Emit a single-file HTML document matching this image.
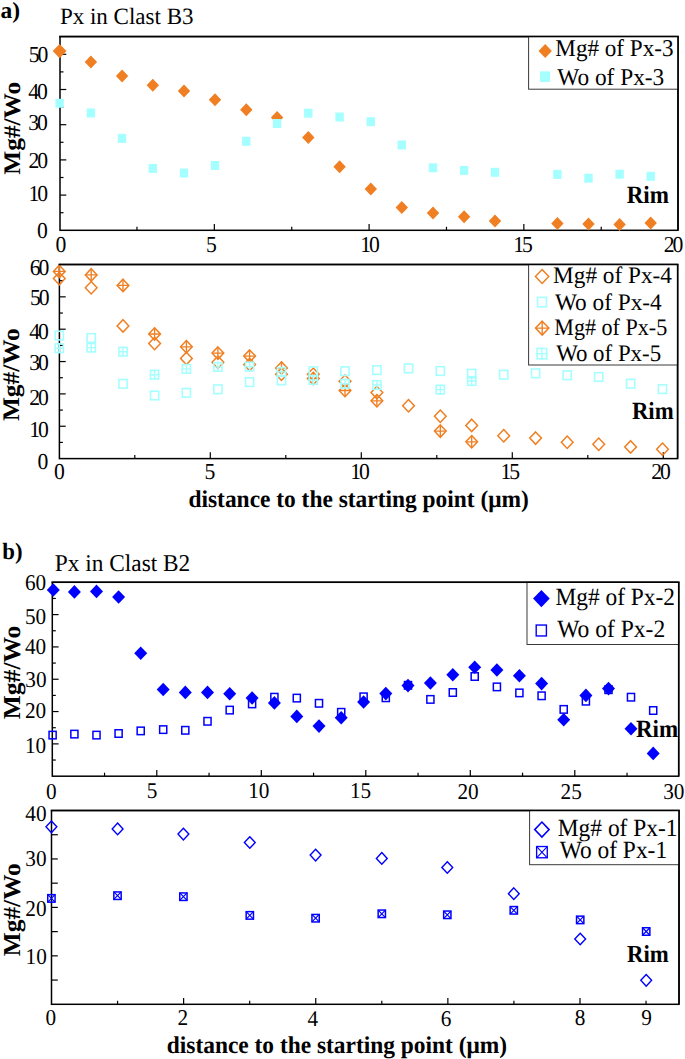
<!DOCTYPE html>
<html><head><meta charset="utf-8"><title>Px profiles</title>
<style>
html,body{margin:0;padding:0;background:#fff;}
body{width:685px;height:1059px;overflow:hidden;}
svg{display:block;font-family:"Liberation Serif", serif;text-rendering:geometricPrecision;}
</style></head>
<body>
<svg width="685" height="1059" viewBox="0 0 685 1059">
<rect width="685" height="1059" fill="#fff"/>
<line x1="60.00" y1="212.70" x2="63.50" y2="212.70" stroke="#000" stroke-width="1.2"/>
<line x1="60.00" y1="195.10" x2="66.30" y2="195.10" stroke="#000" stroke-width="1.2"/>
<line x1="60.00" y1="177.50" x2="63.50" y2="177.50" stroke="#000" stroke-width="1.2"/>
<line x1="60.00" y1="159.90" x2="66.30" y2="159.90" stroke="#000" stroke-width="1.2"/>
<line x1="60.00" y1="142.30" x2="63.50" y2="142.30" stroke="#000" stroke-width="1.2"/>
<line x1="60.00" y1="124.70" x2="66.30" y2="124.70" stroke="#000" stroke-width="1.2"/>
<line x1="60.00" y1="107.10" x2="63.50" y2="107.10" stroke="#000" stroke-width="1.2"/>
<line x1="60.00" y1="89.50" x2="66.30" y2="89.50" stroke="#000" stroke-width="1.2"/>
<line x1="60.00" y1="71.90" x2="63.50" y2="71.90" stroke="#000" stroke-width="1.2"/>
<line x1="60.00" y1="54.30" x2="66.30" y2="54.30" stroke="#000" stroke-width="1.2"/>
<line x1="136.97" y1="230.30" x2="136.97" y2="226.80" stroke="#000" stroke-width="1.2"/>
<line x1="214.35" y1="230.30" x2="214.35" y2="224.00" stroke="#000" stroke-width="1.2"/>
<line x1="291.73" y1="230.30" x2="291.73" y2="226.80" stroke="#000" stroke-width="1.2"/>
<line x1="369.10" y1="230.30" x2="369.10" y2="224.00" stroke="#000" stroke-width="1.2"/>
<line x1="446.48" y1="230.30" x2="446.48" y2="226.80" stroke="#000" stroke-width="1.2"/>
<line x1="523.85" y1="230.30" x2="523.85" y2="224.00" stroke="#000" stroke-width="1.2"/>
<line x1="601.23" y1="230.30" x2="601.23" y2="226.80" stroke="#000" stroke-width="1.2"/>
<rect x="60.00" y="36.60" width="618.00" height="193.70" stroke="#000" stroke-width="1.5" fill="none"/>
<path d="M59.60,43.90 L66.50,51.10 L59.60,58.30 L52.70,51.10 Z" fill="#EF7F22"/>
<path d="M90.90,55.40 L97.10,61.90 L90.90,68.40 L84.70,61.90 Z" fill="#EF7F22"/>
<path d="M122.10,69.40 L128.30,75.90 L122.10,82.40 L115.90,75.90 Z" fill="#EF7F22"/>
<path d="M152.80,78.70 L159.00,85.20 L152.80,91.70 L146.60,85.20 Z" fill="#EF7F22"/>
<path d="M184.00,84.60 L190.20,91.10 L184.00,97.60 L177.80,91.10 Z" fill="#EF7F22"/>
<path d="M215.00,93.30 L221.20,99.80 L215.00,106.30 L208.80,99.80 Z" fill="#EF7F22"/>
<path d="M246.30,103.20 L252.50,109.70 L246.30,116.20 L240.10,109.70 Z" fill="#EF7F22"/>
<path d="M277.10,111.10 L283.30,117.60 L277.10,124.10 L270.90,117.60 Z" fill="#EF7F22"/>
<path d="M308.30,131.00 L314.50,137.50 L308.30,144.00 L302.10,137.50 Z" fill="#EF7F22"/>
<path d="M339.60,160.20 L345.80,166.70 L339.60,173.20 L333.40,166.70 Z" fill="#EF7F22"/>
<path d="M370.80,182.40 L377.00,188.90 L370.80,195.40 L364.60,188.90 Z" fill="#EF7F22"/>
<path d="M401.80,201.10 L408.00,207.60 L401.80,214.10 L395.60,207.60 Z" fill="#EF7F22"/>
<path d="M433.00,206.40 L439.20,212.90 L433.00,219.40 L426.80,212.90 Z" fill="#EF7F22"/>
<path d="M464.10,210.30 L470.30,216.80 L464.10,223.30 L457.90,216.80 Z" fill="#EF7F22"/>
<path d="M495.00,214.60 L501.20,221.10 L495.00,227.60 L488.80,221.10 Z" fill="#EF7F22"/>
<path d="M557.40,217.00 L563.60,223.50 L557.40,230.00 L551.20,223.50 Z" fill="#EF7F22"/>
<path d="M588.50,217.60 L594.70,224.10 L588.50,230.60 L582.30,224.10 Z" fill="#EF7F22"/>
<path d="M619.60,218.10 L625.80,224.60 L619.60,231.10 L613.40,224.60 Z" fill="#EF7F22"/>
<path d="M650.70,216.40 L656.90,222.90 L650.70,229.40 L644.50,222.90 Z" fill="#EF7F22"/>
<rect x="55.40" y="98.80" width="8.40" height="9.00" fill="#A5FFFF"/>
<rect x="86.70" y="108.50" width="8.40" height="9.00" fill="#A5FFFF"/>
<rect x="117.80" y="133.90" width="8.40" height="9.00" fill="#A5FFFF"/>
<rect x="148.60" y="163.90" width="8.40" height="9.00" fill="#A5FFFF"/>
<rect x="179.80" y="168.60" width="8.40" height="9.00" fill="#A5FFFF"/>
<rect x="210.80" y="161.00" width="8.40" height="9.00" fill="#A5FFFF"/>
<rect x="242.10" y="136.80" width="8.40" height="9.00" fill="#A5FFFF"/>
<rect x="272.90" y="119.00" width="8.40" height="9.00" fill="#A5FFFF"/>
<rect x="304.10" y="108.70" width="8.40" height="9.00" fill="#A5FFFF"/>
<rect x="335.40" y="112.50" width="8.40" height="9.00" fill="#A5FFFF"/>
<rect x="366.60" y="117.20" width="8.40" height="9.00" fill="#A5FFFF"/>
<rect x="397.60" y="140.50" width="8.40" height="9.00" fill="#A5FFFF"/>
<rect x="428.80" y="163.30" width="8.40" height="9.00" fill="#A5FFFF"/>
<rect x="459.90" y="165.90" width="8.40" height="9.00" fill="#A5FFFF"/>
<rect x="490.80" y="167.80" width="8.40" height="9.00" fill="#A5FFFF"/>
<rect x="553.20" y="169.90" width="8.40" height="9.00" fill="#A5FFFF"/>
<rect x="584.30" y="173.70" width="8.40" height="9.00" fill="#A5FFFF"/>
<rect x="615.40" y="169.70" width="8.40" height="9.00" fill="#A5FFFF"/>
<rect x="646.50" y="171.80" width="8.40" height="9.00" fill="#A5FFFF"/>
<rect x="528.60" y="36.60" width="149.40" height="52.60" stroke="#3a3a3a" stroke-width="1.0" fill="#fff"/>
<line x1="59.25" y1="36.60" x2="678.75" y2="36.60" stroke="#000" stroke-width="1.5"/>
<line x1="678.00" y1="36.60" x2="678.00" y2="230.30" stroke="#000" stroke-width="1.5"/>
<path d="M545.20,44.00 L551.90,51.00 L545.20,58.00 L538.50,51.00 Z" fill="#EF7F22"/>
<rect x="540.10" y="71.35" width="10.00" height="10.70" fill="#A5FFFF"/>
<text transform="translate(555.31,55.90) scale(0.9603,1)" font-size="24.10">Mg# of Px-3</text>
<text transform="translate(557.30,85.00) scale(0.9677,1)" font-size="24.10">Wo of Px-3</text>
<text transform="translate(28.74,62.37) scale(0.9500,1)" font-size="22.80" letter-spacing="-2.20">50</text>
<text transform="translate(28.24,98.87) scale(0.9500,1)" font-size="22.80" letter-spacing="-2.20">40</text>
<text transform="translate(28.14,130.27) scale(0.9500,1)" font-size="22.80" letter-spacing="-2.20">30</text>
<text transform="translate(28.44,167.87) scale(0.9500,1)" font-size="22.80" letter-spacing="-2.20">20</text>
<text transform="translate(28.44,201.07) scale(0.9500,1)" font-size="22.80" letter-spacing="-2.20">10</text>
<text transform="translate(36.88,238.27) scale(0.9500,1)" font-size="22.80" letter-spacing="-2.20">0</text>
<text transform="translate(55.59,252.17) scale(0.9500,1)" font-size="22.80" letter-spacing="-2.20">0</text>
<text transform="translate(205.90,252.20) scale(0.9500,1)" font-size="22.80" letter-spacing="-2.20">5</text>
<text transform="translate(360.17,252.02) scale(0.9500,1)" font-size="22.80" letter-spacing="-2.20">10</text>
<text transform="translate(513.25,252.06) scale(0.9500,1)" font-size="22.80" letter-spacing="-2.20">15</text>
<text transform="translate(663.73,252.42) scale(0.9500,1)" font-size="22.80" letter-spacing="-2.20">20</text>
<text transform="translate(626.70,203.40) scale(0.9255,1)" font-size="24.89" font-weight="bold">Rim</text>
<text transform="translate(59.91,24.10) scale(0.9839,1)" font-size="23.40">Px in Clast B3</text>
<text transform="translate(0.44,17.66) scale(1.0107,1)" font-size="23.25" font-weight="bold">a)</text>
<text transform="translate(19.96,174.64) rotate(-90) scale(1.0634,1)" font-size="23.82" font-weight="bold">Mg#/Wo</text>
<line x1="59.40" y1="442.43" x2="62.90" y2="442.43" stroke="#000" stroke-width="1.2"/>
<line x1="59.40" y1="426.25" x2="65.70" y2="426.25" stroke="#000" stroke-width="1.2"/>
<line x1="59.40" y1="410.08" x2="62.90" y2="410.08" stroke="#000" stroke-width="1.2"/>
<line x1="59.40" y1="393.90" x2="65.70" y2="393.90" stroke="#000" stroke-width="1.2"/>
<line x1="59.40" y1="377.73" x2="62.90" y2="377.73" stroke="#000" stroke-width="1.2"/>
<line x1="59.40" y1="361.55" x2="65.70" y2="361.55" stroke="#000" stroke-width="1.2"/>
<line x1="59.40" y1="345.38" x2="62.90" y2="345.38" stroke="#000" stroke-width="1.2"/>
<line x1="59.40" y1="329.20" x2="65.70" y2="329.20" stroke="#000" stroke-width="1.2"/>
<line x1="59.40" y1="313.03" x2="62.90" y2="313.03" stroke="#000" stroke-width="1.2"/>
<line x1="59.40" y1="296.85" x2="65.70" y2="296.85" stroke="#000" stroke-width="1.2"/>
<line x1="59.40" y1="280.68" x2="62.90" y2="280.68" stroke="#000" stroke-width="1.2"/>
<line x1="134.80" y1="458.60" x2="134.80" y2="455.10" stroke="#000" stroke-width="1.2"/>
<line x1="210.30" y1="458.60" x2="210.30" y2="452.30" stroke="#000" stroke-width="1.2"/>
<line x1="285.80" y1="458.60" x2="285.80" y2="455.10" stroke="#000" stroke-width="1.2"/>
<line x1="361.30" y1="458.60" x2="361.30" y2="452.30" stroke="#000" stroke-width="1.2"/>
<line x1="436.80" y1="458.60" x2="436.80" y2="455.10" stroke="#000" stroke-width="1.2"/>
<line x1="512.30" y1="458.60" x2="512.30" y2="452.30" stroke="#000" stroke-width="1.2"/>
<line x1="587.80" y1="458.60" x2="587.80" y2="455.10" stroke="#000" stroke-width="1.2"/>
<line x1="663.30" y1="458.60" x2="663.30" y2="452.30" stroke="#000" stroke-width="1.2"/>
<rect x="59.40" y="264.50" width="618.20" height="194.10" stroke="#000" stroke-width="1.5" fill="none"/>
<path d="M59.30,272.40 L65.15,278.60 L59.30,284.80 L53.45,278.60 Z" fill="none" stroke="#EF7F22" stroke-width="1.5"/>
<path d="M91.20,281.60 L97.05,287.80 L91.20,294.00 L85.35,287.80 Z" fill="none" stroke="#EF7F22" stroke-width="1.5"/>
<path d="M123.00,319.70 L128.85,325.90 L123.00,332.10 L117.15,325.90 Z" fill="none" stroke="#EF7F22" stroke-width="1.5"/>
<path d="M154.60,337.30 L160.45,343.50 L154.60,349.70 L148.75,343.50 Z" fill="none" stroke="#EF7F22" stroke-width="1.5"/>
<path d="M186.40,352.20 L192.25,358.40 L186.40,364.60 L180.55,358.40 Z" fill="none" stroke="#EF7F22" stroke-width="1.5"/>
<path d="M217.90,356.00 L223.75,362.20 L217.90,368.40 L212.05,362.20 Z" fill="none" stroke="#EF7F22" stroke-width="1.5"/>
<path d="M249.60,358.30 L255.45,364.50 L249.60,370.70 L243.75,364.50 Z" fill="none" stroke="#EF7F22" stroke-width="1.5"/>
<path d="M281.50,368.00 L287.35,374.20 L281.50,380.40 L275.65,374.20 Z" fill="none" stroke="#EF7F22" stroke-width="1.5"/>
<path d="M313.30,368.00 L319.15,374.20 L313.30,380.40 L307.45,374.20 Z" fill="none" stroke="#EF7F22" stroke-width="1.5"/>
<path d="M345.00,375.00 L350.85,381.20 L345.00,387.40 L339.15,381.20 Z" fill="none" stroke="#EF7F22" stroke-width="1.5"/>
<path d="M376.90,386.40 L382.75,392.60 L376.90,398.80 L371.05,392.60 Z" fill="none" stroke="#EF7F22" stroke-width="1.5"/>
<path d="M408.50,399.50 L414.35,405.70 L408.50,411.90 L402.65,405.70 Z" fill="none" stroke="#EF7F22" stroke-width="1.5"/>
<path d="M440.30,410.00 L446.15,416.20 L440.30,422.40 L434.45,416.20 Z" fill="none" stroke="#EF7F22" stroke-width="1.5"/>
<path d="M471.70,419.20 L477.55,425.40 L471.70,431.60 L465.85,425.40 Z" fill="none" stroke="#EF7F22" stroke-width="1.5"/>
<path d="M503.70,429.60 L509.55,435.80 L503.70,442.00 L497.85,435.80 Z" fill="none" stroke="#EF7F22" stroke-width="1.5"/>
<path d="M535.60,431.90 L541.45,438.10 L535.60,444.30 L529.75,438.10 Z" fill="none" stroke="#EF7F22" stroke-width="1.5"/>
<path d="M567.20,436.00 L573.05,442.20 L567.20,448.40 L561.35,442.20 Z" fill="none" stroke="#EF7F22" stroke-width="1.5"/>
<path d="M598.70,438.00 L604.55,444.20 L598.70,450.40 L592.85,444.20 Z" fill="none" stroke="#EF7F22" stroke-width="1.5"/>
<path d="M630.60,440.70 L636.45,446.90 L630.60,453.10 L624.75,446.90 Z" fill="none" stroke="#EF7F22" stroke-width="1.5"/>
<path d="M662.50,443.00 L668.35,449.20 L662.50,455.40 L656.65,449.20 Z" fill="none" stroke="#EF7F22" stroke-width="1.5"/>
<path d="M59.30,265.20 L65.15,271.40 L59.30,277.60 L53.45,271.40 Z" fill="none" stroke="#EF7F22" stroke-width="1.5"/>
<path d="M53.45,271.40 H65.15 M59.30,265.20 V277.60" stroke="#EF7F22" stroke-width="1.35"/>
<path d="M91.20,268.70 L97.05,274.90 L91.20,281.10 L85.35,274.90 Z" fill="none" stroke="#EF7F22" stroke-width="1.5"/>
<path d="M85.35,274.90 H97.05 M91.20,268.70 V281.10" stroke="#EF7F22" stroke-width="1.35"/>
<path d="M123.00,279.20 L128.85,285.40 L123.00,291.60 L117.15,285.40 Z" fill="none" stroke="#EF7F22" stroke-width="1.5"/>
<path d="M117.15,285.40 H128.85 M123.00,279.20 V291.60" stroke="#EF7F22" stroke-width="1.35"/>
<path d="M154.60,327.80 L160.45,334.00 L154.60,340.20 L148.75,334.00 Z" fill="none" stroke="#EF7F22" stroke-width="1.5"/>
<path d="M148.75,334.00 H160.45 M154.60,327.80 V340.20" stroke="#EF7F22" stroke-width="1.35"/>
<path d="M186.40,340.60 L192.25,346.80 L186.40,353.00 L180.55,346.80 Z" fill="none" stroke="#EF7F22" stroke-width="1.5"/>
<path d="M180.55,346.80 H192.25 M186.40,340.60 V353.00" stroke="#EF7F22" stroke-width="1.35"/>
<path d="M217.90,346.90 L223.75,353.10 L217.90,359.30 L212.05,353.10 Z" fill="none" stroke="#EF7F22" stroke-width="1.5"/>
<path d="M212.05,353.10 H223.75 M217.90,346.90 V359.30" stroke="#EF7F22" stroke-width="1.35"/>
<path d="M249.60,349.90 L255.45,356.10 L249.60,362.30 L243.75,356.10 Z" fill="none" stroke="#EF7F22" stroke-width="1.5"/>
<path d="M243.75,356.10 H255.45 M249.60,349.90 V362.30" stroke="#EF7F22" stroke-width="1.35"/>
<path d="M281.50,361.80 L287.35,368.00 L281.50,374.20 L275.65,368.00 Z" fill="none" stroke="#EF7F22" stroke-width="1.5"/>
<path d="M275.65,368.00 H287.35 M281.50,361.80 V374.20" stroke="#EF7F22" stroke-width="1.35"/>
<path d="M313.30,372.30 L319.15,378.50 L313.30,384.70 L307.45,378.50 Z" fill="none" stroke="#EF7F22" stroke-width="1.5"/>
<path d="M307.45,378.50 H319.15 M313.30,372.30 V384.70" stroke="#EF7F22" stroke-width="1.35"/>
<path d="M345.00,384.30 L350.85,390.50 L345.00,396.70 L339.15,390.50 Z" fill="none" stroke="#EF7F22" stroke-width="1.5"/>
<path d="M339.15,390.50 H350.85 M345.00,384.30 V396.70" stroke="#EF7F22" stroke-width="1.35"/>
<path d="M376.90,394.60 L382.75,400.80 L376.90,407.00 L371.05,400.80 Z" fill="none" stroke="#EF7F22" stroke-width="1.5"/>
<path d="M371.05,400.80 H382.75 M376.90,394.60 V407.00" stroke="#EF7F22" stroke-width="1.35"/>
<path d="M440.30,424.90 L446.15,431.10 L440.30,437.30 L434.45,431.10 Z" fill="none" stroke="#EF7F22" stroke-width="1.5"/>
<path d="M434.45,431.10 H446.15 M440.30,424.90 V437.30" stroke="#EF7F22" stroke-width="1.35"/>
<path d="M471.70,435.60 L477.55,441.80 L471.70,448.00 L465.85,441.80 Z" fill="none" stroke="#EF7F22" stroke-width="1.5"/>
<path d="M465.85,441.80 H477.55 M471.70,435.60 V448.00" stroke="#EF7F22" stroke-width="1.35"/>
<rect x="55.20" y="331.30" width="8.20" height="8.60" fill="none" stroke="#A5FFFF" stroke-width="1.6"/>
<rect x="87.10" y="333.70" width="8.20" height="8.60" fill="none" stroke="#A5FFFF" stroke-width="1.6"/>
<rect x="118.90" y="379.50" width="8.20" height="8.60" fill="none" stroke="#A5FFFF" stroke-width="1.6"/>
<rect x="150.50" y="391.20" width="8.20" height="8.60" fill="none" stroke="#A5FFFF" stroke-width="1.6"/>
<rect x="182.30" y="388.50" width="8.20" height="8.60" fill="none" stroke="#A5FFFF" stroke-width="1.6"/>
<rect x="213.80" y="385.00" width="8.20" height="8.60" fill="none" stroke="#A5FFFF" stroke-width="1.6"/>
<rect x="245.50" y="377.80" width="8.20" height="8.60" fill="none" stroke="#A5FFFF" stroke-width="1.6"/>
<rect x="277.40" y="376.10" width="8.20" height="8.60" fill="none" stroke="#A5FFFF" stroke-width="1.6"/>
<rect x="309.20" y="366.90" width="8.20" height="8.60" fill="none" stroke="#A5FFFF" stroke-width="1.6"/>
<rect x="340.90" y="366.90" width="8.20" height="8.60" fill="none" stroke="#A5FFFF" stroke-width="1.6"/>
<rect x="372.80" y="365.80" width="8.20" height="8.60" fill="none" stroke="#A5FFFF" stroke-width="1.6"/>
<rect x="404.40" y="364.10" width="8.20" height="8.60" fill="none" stroke="#A5FFFF" stroke-width="1.6"/>
<rect x="436.20" y="366.70" width="8.20" height="8.60" fill="none" stroke="#A5FFFF" stroke-width="1.6"/>
<rect x="467.60" y="369.40" width="8.20" height="8.60" fill="none" stroke="#A5FFFF" stroke-width="1.6"/>
<rect x="499.60" y="370.40" width="8.20" height="8.60" fill="none" stroke="#A5FFFF" stroke-width="1.6"/>
<rect x="531.50" y="369.00" width="8.20" height="8.60" fill="none" stroke="#A5FFFF" stroke-width="1.6"/>
<rect x="563.10" y="371.00" width="8.20" height="8.60" fill="none" stroke="#A5FFFF" stroke-width="1.6"/>
<rect x="594.60" y="372.70" width="8.20" height="8.60" fill="none" stroke="#A5FFFF" stroke-width="1.6"/>
<rect x="626.50" y="379.40" width="8.20" height="8.60" fill="none" stroke="#A5FFFF" stroke-width="1.6"/>
<rect x="658.40" y="384.80" width="8.20" height="8.60" fill="none" stroke="#A5FFFF" stroke-width="1.6"/>
<rect x="55.20" y="343.90" width="8.20" height="8.60" fill="none" stroke="#A5FFFF" stroke-width="1.6"/>
<path d="M54.40,348.20 H64.20 M59.30,343.10 V353.30" stroke="#A5FFFF" stroke-width="1.44"/>
<rect x="87.10" y="343.30" width="8.20" height="8.60" fill="none" stroke="#A5FFFF" stroke-width="1.6"/>
<path d="M86.30,347.60 H96.10 M91.20,342.50 V352.70" stroke="#A5FFFF" stroke-width="1.44"/>
<rect x="118.90" y="347.40" width="8.20" height="8.60" fill="none" stroke="#A5FFFF" stroke-width="1.6"/>
<path d="M118.10,351.70 H127.90 M123.00,346.60 V356.80" stroke="#A5FFFF" stroke-width="1.44"/>
<rect x="150.50" y="370.40" width="8.20" height="8.60" fill="none" stroke="#A5FFFF" stroke-width="1.6"/>
<path d="M149.70,374.70 H159.50 M154.60,369.60 V379.80" stroke="#A5FFFF" stroke-width="1.44"/>
<rect x="182.30" y="364.60" width="8.20" height="8.60" fill="none" stroke="#A5FFFF" stroke-width="1.6"/>
<path d="M181.50,368.90 H191.30 M186.40,363.80 V374.00" stroke="#A5FFFF" stroke-width="1.44"/>
<rect x="213.80" y="362.60" width="8.20" height="8.60" fill="none" stroke="#A5FFFF" stroke-width="1.6"/>
<path d="M213.00,366.90 H222.80 M217.90,361.80 V372.00" stroke="#A5FFFF" stroke-width="1.44"/>
<rect x="245.50" y="362.30" width="8.20" height="8.60" fill="none" stroke="#A5FFFF" stroke-width="1.6"/>
<path d="M244.70,366.60 H254.50 M249.60,361.50 V371.70" stroke="#A5FFFF" stroke-width="1.44"/>
<rect x="277.40" y="367.60" width="8.20" height="8.60" fill="none" stroke="#A5FFFF" stroke-width="1.6"/>
<path d="M276.60,371.90 H286.40 M281.50,366.80 V377.00" stroke="#A5FFFF" stroke-width="1.44"/>
<rect x="309.20" y="375.70" width="8.20" height="8.60" fill="none" stroke="#A5FFFF" stroke-width="1.6"/>
<path d="M308.40,380.00 H318.20 M313.30,374.90 V385.10" stroke="#A5FFFF" stroke-width="1.44"/>
<rect x="340.90" y="379.50" width="8.20" height="8.60" fill="none" stroke="#A5FFFF" stroke-width="1.6"/>
<path d="M340.10,383.80 H349.90 M345.00,378.70 V388.90" stroke="#A5FFFF" stroke-width="1.44"/>
<rect x="372.80" y="380.70" width="8.20" height="8.60" fill="none" stroke="#A5FFFF" stroke-width="1.6"/>
<path d="M372.00,385.00 H381.80 M376.90,379.90 V390.10" stroke="#A5FFFF" stroke-width="1.44"/>
<rect x="436.20" y="385.30" width="8.20" height="8.60" fill="none" stroke="#A5FFFF" stroke-width="1.6"/>
<path d="M435.40,389.60 H445.20 M440.30,384.50 V394.70" stroke="#A5FFFF" stroke-width="1.44"/>
<rect x="467.60" y="376.70" width="8.20" height="8.60" fill="none" stroke="#A5FFFF" stroke-width="1.6"/>
<path d="M466.80,381.00 H476.60 M471.70,375.90 V386.10" stroke="#A5FFFF" stroke-width="1.44"/>
<rect x="528.60" y="264.50" width="149.00" height="100.50" stroke="#3a3a3a" stroke-width="1.0" fill="#fff"/>
<line x1="58.65" y1="264.50" x2="678.35" y2="264.50" stroke="#000" stroke-width="1.5"/>
<line x1="677.60" y1="264.50" x2="677.60" y2="458.60" stroke="#000" stroke-width="1.5"/>
<path d="M542.10,269.55 L548.75,276.50 L542.10,283.45 L535.45,276.50 Z" fill="none" stroke="#EF7F22" stroke-width="1.5"/>
<rect x="537.50" y="297.40" width="9.00" height="9.40" fill="none" stroke="#A5FFFF" stroke-width="1.6"/>
<path d="M542.20,321.15 L548.85,328.10 L542.20,335.05 L535.55,328.10 Z" fill="none" stroke="#EF7F22" stroke-width="1.5"/>
<path d="M535.55,328.10 H548.85 M542.20,321.15 V335.05" stroke="#EF7F22" stroke-width="1.35"/>
<rect x="537.10" y="348.50" width="9.60" height="10.40" fill="none" stroke="#A5FFFF" stroke-width="1.6"/>
<path d="M536.30,353.70 H547.50 M541.90,347.70 V359.70" stroke="#A5FFFF" stroke-width="1.44"/>
<text transform="translate(553.10,283.00) scale(0.9817,1)" font-size="23.70">Mg# of Px-4</text>
<text transform="translate(554.90,309.80) scale(0.9833,1)" font-size="23.70">Wo of Px-4</text>
<text transform="translate(554.24,334.60) scale(0.9330,1)" font-size="23.70">Mg# of Px-5</text>
<text transform="translate(556.20,361.20) scale(0.9655,1)" font-size="23.70">Wo of Px-5</text>
<text transform="translate(29.84,275.17) scale(0.9500,1)" font-size="22.80" letter-spacing="-2.20">60</text>
<text transform="translate(29.94,304.97) scale(0.9500,1)" font-size="22.80" letter-spacing="-2.20">50</text>
<text transform="translate(29.14,338.77) scale(0.9500,1)" font-size="22.80" letter-spacing="-2.20">40</text>
<text transform="translate(29.14,369.87) scale(0.9500,1)" font-size="22.80" letter-spacing="-2.20">30</text>
<text transform="translate(29.14,404.87) scale(0.9500,1)" font-size="22.80" letter-spacing="-2.20">20</text>
<text transform="translate(29.14,437.07) scale(0.9500,1)" font-size="22.80" letter-spacing="-2.20">10</text>
<text transform="translate(37.58,469.47) scale(0.9500,1)" font-size="22.80" letter-spacing="-2.20">0</text>
<text transform="translate(53.98,479.47) scale(0.9500,1)" font-size="22.80" letter-spacing="-2.20">0</text>
<text transform="translate(204.40,478.95) scale(0.9500,1)" font-size="22.80" letter-spacing="-2.20">5</text>
<text transform="translate(350.22,479.17) scale(0.9500,1)" font-size="22.80" letter-spacing="-2.20">10</text>
<text transform="translate(500.60,479.01) scale(0.9500,1)" font-size="22.80" letter-spacing="-2.20">15</text>
<text transform="translate(651.33,479.17) scale(0.9500,1)" font-size="22.80" letter-spacing="-2.20">20</text>
<text transform="translate(631.90,419.10) scale(0.9222,1)" font-size="24.73" font-weight="bold">Rim</text>
<text transform="translate(18.66,421.04) rotate(-90) scale(1.0623,1)" font-size="23.82" font-weight="bold">Mg#/Wo</text>
<text transform="translate(188.46,506.60) scale(0.9637,1)" font-size="24.30" font-weight="bold">distance to the starting point (μm)</text>
<line x1="52.30" y1="760.04" x2="55.80" y2="760.04" stroke="#000" stroke-width="1.2"/>
<line x1="52.30" y1="743.88" x2="58.60" y2="743.88" stroke="#000" stroke-width="1.2"/>
<line x1="52.30" y1="727.72" x2="55.80" y2="727.72" stroke="#000" stroke-width="1.2"/>
<line x1="52.30" y1="711.56" x2="58.60" y2="711.56" stroke="#000" stroke-width="1.2"/>
<line x1="52.30" y1="695.40" x2="55.80" y2="695.40" stroke="#000" stroke-width="1.2"/>
<line x1="52.30" y1="679.24" x2="58.60" y2="679.24" stroke="#000" stroke-width="1.2"/>
<line x1="52.30" y1="663.08" x2="55.80" y2="663.08" stroke="#000" stroke-width="1.2"/>
<line x1="52.30" y1="646.92" x2="58.60" y2="646.92" stroke="#000" stroke-width="1.2"/>
<line x1="52.30" y1="630.76" x2="55.80" y2="630.76" stroke="#000" stroke-width="1.2"/>
<line x1="52.30" y1="614.60" x2="58.60" y2="614.60" stroke="#000" stroke-width="1.2"/>
<line x1="52.30" y1="598.44" x2="55.80" y2="598.44" stroke="#000" stroke-width="1.2"/>
<line x1="104.55" y1="776.20" x2="104.55" y2="772.70" stroke="#000" stroke-width="1.2"/>
<line x1="156.80" y1="776.20" x2="156.80" y2="769.90" stroke="#000" stroke-width="1.2"/>
<line x1="209.05" y1="776.20" x2="209.05" y2="772.70" stroke="#000" stroke-width="1.2"/>
<line x1="261.30" y1="776.20" x2="261.30" y2="769.90" stroke="#000" stroke-width="1.2"/>
<line x1="313.55" y1="776.20" x2="313.55" y2="772.70" stroke="#000" stroke-width="1.2"/>
<line x1="365.80" y1="776.20" x2="365.80" y2="769.90" stroke="#000" stroke-width="1.2"/>
<line x1="418.05" y1="776.20" x2="418.05" y2="772.70" stroke="#000" stroke-width="1.2"/>
<line x1="470.30" y1="776.20" x2="470.30" y2="769.90" stroke="#000" stroke-width="1.2"/>
<line x1="522.55" y1="776.20" x2="522.55" y2="772.70" stroke="#000" stroke-width="1.2"/>
<line x1="574.80" y1="776.20" x2="574.80" y2="769.90" stroke="#000" stroke-width="1.2"/>
<line x1="627.05" y1="776.20" x2="627.05" y2="772.70" stroke="#000" stroke-width="1.2"/>
<rect x="52.30" y="582.30" width="626.40" height="193.90" stroke="#000" stroke-width="1.5" fill="none"/>
<rect x="49.05" y="731.35" width="7.10" height="7.50" fill="none" stroke="#0000FF" stroke-width="1.5"/>
<rect x="70.85" y="730.35" width="7.10" height="7.50" fill="none" stroke="#0000FF" stroke-width="1.5"/>
<rect x="92.95" y="731.35" width="7.10" height="7.50" fill="none" stroke="#0000FF" stroke-width="1.5"/>
<rect x="115.05" y="729.75" width="7.10" height="7.50" fill="none" stroke="#0000FF" stroke-width="1.5"/>
<rect x="137.15" y="727.15" width="7.10" height="7.50" fill="none" stroke="#0000FF" stroke-width="1.5"/>
<rect x="159.65" y="725.85" width="7.10" height="7.50" fill="none" stroke="#0000FF" stroke-width="1.5"/>
<rect x="181.75" y="726.55" width="7.10" height="7.50" fill="none" stroke="#0000FF" stroke-width="1.5"/>
<rect x="203.95" y="717.55" width="7.10" height="7.50" fill="none" stroke="#0000FF" stroke-width="1.5"/>
<rect x="226.15" y="706.35" width="7.10" height="7.50" fill="none" stroke="#0000FF" stroke-width="1.5"/>
<rect x="248.55" y="700.15" width="7.10" height="7.50" fill="none" stroke="#0000FF" stroke-width="1.5"/>
<rect x="270.85" y="693.45" width="7.10" height="7.50" fill="none" stroke="#0000FF" stroke-width="1.5"/>
<rect x="293.25" y="694.35" width="7.10" height="7.50" fill="none" stroke="#0000FF" stroke-width="1.5"/>
<rect x="315.45" y="699.55" width="7.10" height="7.50" fill="none" stroke="#0000FF" stroke-width="1.5"/>
<rect x="337.65" y="708.55" width="7.10" height="7.50" fill="none" stroke="#0000FF" stroke-width="1.5"/>
<rect x="360.05" y="693.05" width="7.10" height="7.50" fill="none" stroke="#0000FF" stroke-width="1.5"/>
<rect x="382.25" y="694.05" width="7.10" height="7.50" fill="none" stroke="#0000FF" stroke-width="1.5"/>
<rect x="404.45" y="681.55" width="7.10" height="7.50" fill="none" stroke="#0000FF" stroke-width="1.5"/>
<rect x="426.85" y="695.65" width="7.10" height="7.50" fill="none" stroke="#0000FF" stroke-width="1.5"/>
<rect x="449.25" y="688.75" width="7.10" height="7.50" fill="none" stroke="#0000FF" stroke-width="1.5"/>
<rect x="471.15" y="672.75" width="7.10" height="7.50" fill="none" stroke="#0000FF" stroke-width="1.5"/>
<rect x="493.35" y="683.15" width="7.10" height="7.50" fill="none" stroke="#0000FF" stroke-width="1.5"/>
<rect x="515.85" y="689.15" width="7.10" height="7.50" fill="none" stroke="#0000FF" stroke-width="1.5"/>
<rect x="538.05" y="692.05" width="7.10" height="7.50" fill="none" stroke="#0000FF" stroke-width="1.5"/>
<rect x="560.15" y="705.65" width="7.10" height="7.50" fill="none" stroke="#0000FF" stroke-width="1.5"/>
<rect x="582.35" y="697.45" width="7.10" height="7.50" fill="none" stroke="#0000FF" stroke-width="1.5"/>
<rect x="604.95" y="685.95" width="7.10" height="7.50" fill="none" stroke="#0000FF" stroke-width="1.5"/>
<rect x="627.45" y="693.45" width="7.10" height="7.50" fill="none" stroke="#0000FF" stroke-width="1.5"/>
<rect x="649.65" y="706.75" width="7.10" height="7.50" fill="none" stroke="#0000FF" stroke-width="1.5"/>
<path d="M53.30,583.20 L59.80,590.00 L53.30,596.80 L46.80,590.00 Z" fill="#0000FF"/>
<path d="M74.40,585.10 L80.90,591.90 L74.40,598.70 L67.90,591.90 Z" fill="#0000FF"/>
<path d="M96.50,584.60 L103.00,591.40 L96.50,598.20 L90.00,591.40 Z" fill="#0000FF"/>
<path d="M118.60,590.20 L125.10,597.00 L118.60,603.80 L112.10,597.00 Z" fill="#0000FF"/>
<path d="M140.70,646.40 L147.20,653.20 L140.70,660.00 L134.20,653.20 Z" fill="#0000FF"/>
<path d="M163.20,682.70 L169.70,689.50 L163.20,696.30 L156.70,689.50 Z" fill="#0000FF"/>
<path d="M185.30,685.60 L191.80,692.40 L185.30,699.20 L178.80,692.40 Z" fill="#0000FF"/>
<path d="M207.50,685.60 L214.00,692.40 L207.50,699.20 L201.00,692.40 Z" fill="#0000FF"/>
<path d="M229.70,686.90 L236.20,693.70 L229.70,700.50 L223.20,693.70 Z" fill="#0000FF"/>
<path d="M252.10,691.20 L258.60,698.00 L252.10,704.80 L245.60,698.00 Z" fill="#0000FF"/>
<path d="M274.40,696.10 L280.90,702.90 L274.40,709.70 L267.90,702.90 Z" fill="#0000FF"/>
<path d="M296.80,709.60 L303.30,716.40 L296.80,723.20 L290.30,716.40 Z" fill="#0000FF"/>
<path d="M319.00,719.30 L325.50,726.10 L319.00,732.90 L312.50,726.10 Z" fill="#0000FF"/>
<path d="M341.20,710.90 L347.70,717.70 L341.20,724.50 L334.70,717.70 Z" fill="#0000FF"/>
<path d="M363.60,695.20 L370.10,702.00 L363.60,708.80 L357.10,702.00 Z" fill="#0000FF"/>
<path d="M385.80,686.80 L392.30,693.60 L385.80,700.40 L379.30,693.60 Z" fill="#0000FF"/>
<path d="M408.00,678.80 L414.50,685.60 L408.00,692.40 L401.50,685.60 Z" fill="#0000FF"/>
<path d="M430.40,676.20 L436.90,683.00 L430.40,689.80 L423.90,683.00 Z" fill="#0000FF"/>
<path d="M452.80,667.90 L459.30,674.70 L452.80,681.50 L446.30,674.70 Z" fill="#0000FF"/>
<path d="M474.70,660.40 L481.20,667.20 L474.70,674.00 L468.20,667.20 Z" fill="#0000FF"/>
<path d="M496.90,663.20 L503.40,670.00 L496.90,676.80 L490.40,670.00 Z" fill="#0000FF"/>
<path d="M519.40,669.00 L525.90,675.80 L519.40,682.60 L512.90,675.80 Z" fill="#0000FF"/>
<path d="M541.60,676.80 L548.10,683.60 L541.60,690.40 L535.10,683.60 Z" fill="#0000FF"/>
<path d="M563.70,713.00 L570.20,719.80 L563.70,726.60 L557.20,719.80 Z" fill="#0000FF"/>
<path d="M585.90,688.60 L592.40,695.40 L585.90,702.20 L579.40,695.40 Z" fill="#0000FF"/>
<path d="M608.50,681.80 L615.00,688.60 L608.50,695.40 L602.00,688.60 Z" fill="#0000FF"/>
<path d="M631.00,721.90 L637.50,728.70 L631.00,735.50 L624.50,728.70 Z" fill="#0000FF"/>
<path d="M653.20,746.60 L659.70,753.40 L653.20,760.20 L646.70,753.40 Z" fill="#0000FF"/>
<rect x="527.00" y="582.30" width="151.70" height="62.20" stroke="#3a3a3a" stroke-width="1.0" fill="#fff"/>
<line x1="51.55" y1="582.30" x2="679.45" y2="582.30" stroke="#000" stroke-width="1.5"/>
<line x1="678.70" y1="582.30" x2="678.70" y2="776.20" stroke="#000" stroke-width="1.5"/>
<path d="M541.40,590.00 L549.75,598.60 L541.40,607.20 L533.05,598.60 Z" fill="#0000FF"/>
<rect x="536.20" y="625.05" width="10.20" height="10.90" fill="none" stroke="#0000FF" stroke-width="1.4"/>
<text transform="translate(555.50,604.90) scale(0.9432,1)" font-size="24.80">Mg# of Px-2</text>
<text transform="translate(557.20,637.00) scale(0.9498,1)" font-size="24.80">Wo of Px-2</text>
<text transform="translate(24.95,590.35) scale(0.9400,1)" font-size="22.60">60</text>
<text transform="translate(24.95,623.75) scale(0.9400,1)" font-size="22.60">50</text>
<text transform="translate(24.95,653.90) scale(0.9400,1)" font-size="22.60">40</text>
<text transform="translate(25.35,687.35) scale(0.9400,1)" font-size="22.60">30</text>
<text transform="translate(24.95,717.50) scale(0.9400,1)" font-size="22.60">20</text>
<text transform="translate(24.95,752.75) scale(0.9400,1)" font-size="22.60">10</text>
<text transform="translate(45.99,798.70) scale(0.9400,1)" font-size="22.60">0</text>
<text transform="translate(146.80,797.79) scale(0.9400,1)" font-size="22.60">5</text>
<text transform="translate(248.25,798.40) scale(0.9400,1)" font-size="22.60">10</text>
<text transform="translate(349.97,798.35) scale(0.9400,1)" font-size="22.60">15</text>
<text transform="translate(457.50,799.00) scale(0.9400,1)" font-size="22.60">20</text>
<text transform="translate(560.52,798.97) scale(0.9400,1)" font-size="22.60">25</text>
<text transform="translate(663.17,799.00) scale(0.9400,1)" font-size="22.60">30</text>
<text transform="translate(635.90,737.30) scale(0.9312,1)" font-size="24.73" font-weight="bold">Rim</text>
<text transform="translate(54.80,570.60) scale(0.9720,1)" font-size="24.00">Px in Clast B2</text>
<text transform="translate(2.31,559.24) scale(0.9770,1)" font-size="23.36" font-weight="bold">b)</text>
<text transform="translate(20.43,719.25) rotate(-90) scale(1.0477,1)" font-size="24.39" font-weight="bold">Mg#/Wo</text>
<line x1="51.50" y1="980.07" x2="57.80" y2="980.07" stroke="#000" stroke-width="1.2"/>
<line x1="51.50" y1="955.85" x2="57.80" y2="955.85" stroke="#000" stroke-width="1.2"/>
<line x1="51.50" y1="931.62" x2="57.80" y2="931.62" stroke="#000" stroke-width="1.2"/>
<line x1="51.50" y1="907.40" x2="57.80" y2="907.40" stroke="#000" stroke-width="1.2"/>
<line x1="51.50" y1="883.17" x2="57.80" y2="883.17" stroke="#000" stroke-width="1.2"/>
<line x1="51.50" y1="858.95" x2="57.80" y2="858.95" stroke="#000" stroke-width="1.2"/>
<line x1="51.50" y1="834.72" x2="57.80" y2="834.72" stroke="#000" stroke-width="1.2"/>
<line x1="117.56" y1="1004.30" x2="117.56" y2="1000.80" stroke="#000" stroke-width="1.2"/>
<line x1="183.62" y1="1004.30" x2="183.62" y2="998.00" stroke="#000" stroke-width="1.2"/>
<line x1="249.68" y1="1004.30" x2="249.68" y2="1000.80" stroke="#000" stroke-width="1.2"/>
<line x1="315.74" y1="1004.30" x2="315.74" y2="998.00" stroke="#000" stroke-width="1.2"/>
<line x1="381.80" y1="1004.30" x2="381.80" y2="1000.80" stroke="#000" stroke-width="1.2"/>
<line x1="447.86" y1="1004.30" x2="447.86" y2="998.00" stroke="#000" stroke-width="1.2"/>
<line x1="513.92" y1="1004.30" x2="513.92" y2="1000.80" stroke="#000" stroke-width="1.2"/>
<line x1="579.98" y1="1004.30" x2="579.98" y2="998.00" stroke="#000" stroke-width="1.2"/>
<line x1="646.04" y1="1004.30" x2="646.04" y2="1000.80" stroke="#000" stroke-width="1.2"/>
<rect x="51.50" y="810.50" width="627.50" height="193.80" stroke="#000" stroke-width="1.5" fill="none"/>
<path d="M51.40,820.98 L56.82,826.80 L51.40,832.62 L45.98,826.80 Z" fill="none" stroke="#0000FF" stroke-width="1.4"/>
<path d="M117.60,823.08 L123.02,828.90 L117.60,834.72 L112.18,828.90 Z" fill="none" stroke="#0000FF" stroke-width="1.4"/>
<path d="M183.40,828.28 L188.82,834.10 L183.40,839.92 L177.98,834.10 Z" fill="none" stroke="#0000FF" stroke-width="1.4"/>
<path d="M249.80,836.68 L255.22,842.50 L249.80,848.32 L244.38,842.50 Z" fill="none" stroke="#0000FF" stroke-width="1.4"/>
<path d="M315.60,849.28 L321.02,855.10 L315.60,860.92 L310.18,855.10 Z" fill="none" stroke="#0000FF" stroke-width="1.4"/>
<path d="M381.80,852.58 L387.22,858.40 L381.80,864.22 L376.38,858.40 Z" fill="none" stroke="#0000FF" stroke-width="1.4"/>
<path d="M447.30,861.68 L452.72,867.50 L447.30,873.32 L441.88,867.50 Z" fill="none" stroke="#0000FF" stroke-width="1.4"/>
<path d="M513.80,887.88 L519.22,893.70 L513.80,899.52 L508.38,893.70 Z" fill="none" stroke="#0000FF" stroke-width="1.4"/>
<path d="M580.20,933.18 L585.62,939.00 L580.20,944.82 L574.78,939.00 Z" fill="none" stroke="#0000FF" stroke-width="1.4"/>
<path d="M646.20,974.48 L651.62,980.30 L646.20,986.12 L640.78,980.30 Z" fill="none" stroke="#0000FF" stroke-width="1.4"/>
<rect x="47.75" y="894.65" width="7.30" height="7.50" fill="none" stroke="#0000FF" stroke-width="1.5"/>
<path d="M47.75,894.65 L55.05,902.15 M55.05,894.65 L47.75,902.15" stroke="#0000FF" stroke-width="1.20"/>
<rect x="113.85" y="891.95" width="7.30" height="7.50" fill="none" stroke="#0000FF" stroke-width="1.5"/>
<path d="M113.85,891.95 L121.15,899.45 M121.15,891.95 L113.85,899.45" stroke="#0000FF" stroke-width="1.20"/>
<rect x="179.75" y="892.95" width="7.30" height="7.50" fill="none" stroke="#0000FF" stroke-width="1.5"/>
<path d="M179.75,892.95 L187.05,900.45 M187.05,892.95 L179.75,900.45" stroke="#0000FF" stroke-width="1.20"/>
<rect x="246.15" y="911.65" width="7.30" height="7.50" fill="none" stroke="#0000FF" stroke-width="1.5"/>
<path d="M246.15,911.65 L253.45,919.15 M253.45,911.65 L246.15,919.15" stroke="#0000FF" stroke-width="1.20"/>
<rect x="311.95" y="914.45" width="7.30" height="7.50" fill="none" stroke="#0000FF" stroke-width="1.5"/>
<path d="M311.95,914.45 L319.25,921.95 M319.25,914.45 L311.95,921.95" stroke="#0000FF" stroke-width="1.20"/>
<rect x="378.15" y="910.05" width="7.30" height="7.50" fill="none" stroke="#0000FF" stroke-width="1.5"/>
<path d="M378.15,910.05 L385.45,917.55 M385.45,910.05 L378.15,917.55" stroke="#0000FF" stroke-width="1.20"/>
<rect x="443.65" y="911.05" width="7.30" height="7.50" fill="none" stroke="#0000FF" stroke-width="1.5"/>
<path d="M443.65,911.05 L450.95,918.55 M450.95,911.05 L443.65,918.55" stroke="#0000FF" stroke-width="1.20"/>
<rect x="510.15" y="906.55" width="7.30" height="7.50" fill="none" stroke="#0000FF" stroke-width="1.5"/>
<path d="M510.15,906.55 L517.45,914.05 M517.45,906.55 L510.15,914.05" stroke="#0000FF" stroke-width="1.20"/>
<rect x="576.55" y="916.15" width="7.30" height="7.50" fill="none" stroke="#0000FF" stroke-width="1.5"/>
<path d="M576.55,916.15 L583.85,923.65 M583.85,916.15 L576.55,923.65" stroke="#0000FF" stroke-width="1.20"/>
<rect x="642.55" y="927.75" width="7.30" height="7.50" fill="none" stroke="#0000FF" stroke-width="1.5"/>
<path d="M642.55,927.75 L649.85,935.25 M649.85,927.75 L642.55,935.25" stroke="#0000FF" stroke-width="1.20"/>
<rect x="529.60" y="810.50" width="149.40" height="54.20" stroke="#3a3a3a" stroke-width="1.0" fill="#fff"/>
<line x1="50.75" y1="810.50" x2="679.75" y2="810.50" stroke="#000" stroke-width="1.5"/>
<line x1="679.00" y1="810.50" x2="679.00" y2="1004.30" stroke="#000" stroke-width="1.5"/>
<path d="M541.90,822.07 L549.08,829.60 L541.90,837.13 L534.72,829.60 Z" fill="none" stroke="#0000FF" stroke-width="1.6"/>
<rect x="536.62" y="846.52" width="10.65" height="11.25" fill="none" stroke="#0000FF" stroke-width="1.35"/>
<path d="M536.62,846.52 L547.28,857.77 M547.28,846.52 L536.62,857.77" stroke="#0000FF" stroke-width="1.08"/>
<text transform="translate(557.80,835.80) scale(0.9441,1)" font-size="24.80">Mg# of Px-1</text>
<text transform="translate(559.70,858.00) scale(0.9446,1)" font-size="24.80">Wo of Px-1</text>
<text transform="translate(25.35,821.00) scale(0.9400,1)" font-size="22.60">40</text>
<text transform="translate(25.35,866.30) scale(0.9400,1)" font-size="22.60">30</text>
<text transform="translate(25.35,915.50) scale(0.9400,1)" font-size="22.60">20</text>
<text transform="translate(25.55,963.50) scale(0.9400,1)" font-size="22.60">10</text>
<text transform="translate(45.59,1025.40) scale(0.9400,1)" font-size="22.60">0</text>
<text transform="translate(177.45,1025.49) scale(0.9400,1)" font-size="22.60">2</text>
<text transform="translate(307.54,1026.03) scale(0.9400,1)" font-size="22.60">4</text>
<text transform="translate(440.76,1025.97) scale(0.9400,1)" font-size="22.60">6</text>
<text transform="translate(574.74,1025.40) scale(0.9400,1)" font-size="22.60">8</text>
<text transform="translate(641.27,1025.37) scale(0.9400,1)" font-size="22.60">9</text>
<text transform="translate(627.00,962.10) scale(0.9315,1)" font-size="24.43" font-weight="bold">Rim</text>
<text transform="translate(20.13,956.24) rotate(-90) scale(1.0409,1)" font-size="24.39" font-weight="bold">Mg#/Wo</text>
<text transform="translate(166.76,1052.50) scale(0.9634,1)" font-size="24.30" font-weight="bold">distance to the starting point (μm)</text>
</svg>
</body></html>
